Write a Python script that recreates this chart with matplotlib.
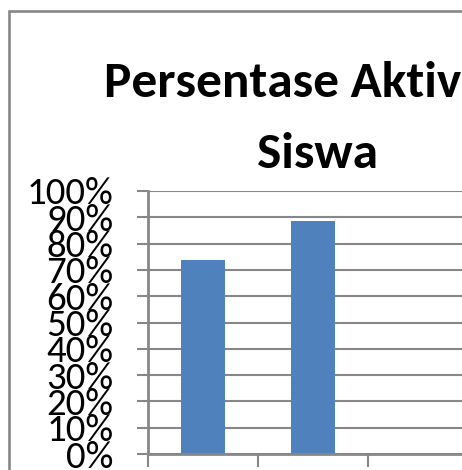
import matplotlib
matplotlib.use("Agg")
import matplotlib.pyplot as plt
from matplotlib.patches import Rectangle
from matplotlib.ticker import FixedLocator

# ---- data ----
categories = ["Siklus I", "Siklus II"]
values = [0.737, 0.886]
y_ticks = [0.0, 0.1, 0.2, 0.3, 0.4, 0.5, 0.6, 0.7, 0.8, 0.9, 1.0]
y_labels = ["0%", "10%", "20%", "30%", "40%", "50%", "60%", "70%", "80%", "90%", "100%"]
title_lines = ["Persentase Aktivitas", "Siswa"]

W, H = 462, 470
DPI = 100
fig = plt.figure(figsize=(W / DPI, H / DPI), dpi=DPI)
fig.patch.set_facecolor("white")

def fx(px):
    return px / W

def fy(py):
    return 1 - py / H

GREY = "#878787"
BAR = "#4F81BD"

# outer chart border (extends past right/bottom edges)
border = Rectangle((fx(8.5), fy(600)), fx(700), (600 - 10.5) / H,
                   transform=fig.transFigure, fill=False,
                   edgecolor=GREY, linewidth=1.9, clip_on=False)
fig.patches.append(border)

# plot area: left 148px, top 191px, bottom 454px, 110px per category
ax = fig.add_axes([fx(148), fy(454), 330 / W, 263 / H])
ax.set_xlim(0, 3)
ax.set_ylim(0, 1)

xpos = [i + 0.5 for i in range(len(categories))]
ax.bar(xpos, values, width=0.4, color=BAR, zorder=3)

ax.yaxis.set_major_locator(FixedLocator(y_ticks))
ax.set_yticklabels(y_labels, family=["Carlito", "DejaVu Sans"], fontsize=28)
ax.xaxis.set_major_locator(FixedLocator([0, 1, 2, 3]))
ax.set_xticklabels([])

ax.grid(axis="y", color=GREY, linewidth=1.5, zorder=0)
ax.set_axisbelow(True)
for s in ["top", "right"]:
    ax.spines[s].set_visible(False)
for s in ["left", "bottom"]:
    ax.spines[s].set_color(GREY)
    ax.spines[s].set_linewidth(2.0)
    ax.spines[s].set_zorder(4)

ax.tick_params(axis="y", direction="out", length=8, width=1.5, color=GREY,
               pad=17, labelcolor="black")
ax.tick_params(axis="x", direction="out", length=9.5, width=1.5, color=GREY)

# title (two lines, centred)
fig.text(fx(321), fy(97), title_lines[0], ha="center", va="baseline",
         fontsize=37, fontweight="bold", family="Carlito")
fig.text(fx(318), fy(168), title_lines[1], ha="center", va="baseline",
         fontsize=37, fontweight="bold", family="Carlito")

fig.savefig("out.png", dpi=DPI)
